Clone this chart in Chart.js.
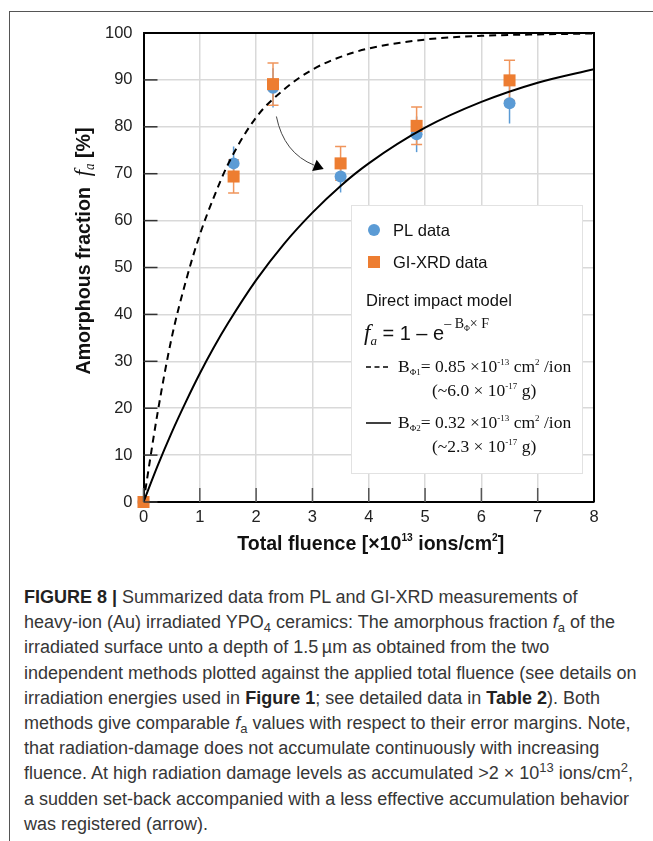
<!DOCTYPE html>
<html>
<head>
<meta charset="utf-8">
<script src="https://cdn.jsdelivr.net/npm/chart.js@4.4.1/dist/chart.umd.min.js"></script>
<style>
  body { margin: 0; background: #fff; }
  #page { position: relative; width: 653px; height: 841px; overflow: hidden; background: #fff; }
  #frame { position: absolute; left: 9px; top: 11px; width: 700px; height: 900px; border: 1px solid #555; }
  #chartBox { position: absolute; left: 0; top: 0; width: 653px; height: 560px; }
  #caption {
    position: absolute; left: 24px; top: 585px;
    font-family: "Liberation Sans", Arial, sans-serif; font-size: 18px; line-height: 25.2px;
    color: #363636; white-space: nowrap;
  }
  #caption b { color: #222; }
  #caption sub { font-size: 13px; line-height: 0; vertical-align: -4px; }
  #caption sup { font-size: 13px; line-height: 0; vertical-align: 7px; }
</style>
</head>
<body>
<div id="page">
  <div id="frame"></div>
  <div id="chartBox"><canvas id="chart" width="653" height="560"></canvas></div>
  <div id="caption">
    <div><b>FIGURE 8 |</b> Summarized data from PL and GI-XRD measurements of</div>
    <div>heavy-ion (Au) irradiated YPO<sub>4</sub> ceramics: The amorphous fraction <i>f</i><sub>a</sub> of the</div>
    <div>irradiated surface unto a depth of 1.5&thinsp;µm as obtained from the two</div>
    <div>independent methods plotted against the applied total fluence (see details on</div>
    <div>irradiation energies used in <b>Figure 1</b>; see detailed data in <b>Table 2</b>). Both</div>
    <div>methods give comparable <i>f</i><sub>a</sub> values with respect to their error margins. Note,</div>
    <div>that radiation-damage does not accumulate continuously with increasing</div>
    <div>fluence. At high radiation damage levels as accumulated &gt;2 × 10<sup>13</sup> ions/cm<sup>2</sup>,</div>
    <div>a sudden set-back accompanied with a less effective accumulation behavior</div>
    <div>was registered (arrow).</div>
  </div>
</div>
<script>
// measured points (fluence in 1e13 ions/cm2, amorphous fraction in %)
const fluence = [0, 1.6, 2.3, 3.5, 4.85, 6.5];
const plData = [0, 72.2, 88.3, 69.4, 78.4, 85.0];
const plErr = [0, 3.6, 4.2, 3.4, 3.8, 4.3];
const xrdData = [0, 69.4, 89.1, 72.2, 80.2, 89.9];
const xrdErr = [0, 3.5, 4.5, 3.6, 4.0, 4.3];

// model curves
const curveF = [0, 0.25, 0.5, 0.75, 1, 1.25, 1.5, 2, 2.5, 3, 3.5, 4, 5, 6, 7, 8];
const fitPhi1 = [0, 19, 35, 47, 57, 65, 72, 82, 88, 92.2, 94.9, 96.7, 98.6, 99.4, 99.7, 99.9];
const fitPhi2 = [0, 7.7, 14.8, 21.3, 27.4, 33, 38.1, 47.3, 55.1, 61.7, 67.4, 72.2, 79.8, 85.3, 89.4, 92.3];

// arrow (set-back) in data units: start, control, tip
const arrowFrom = [2.36, 82.2];
const arrowCtrl = [2.49, 74.4];
const arrowTo = [3.2, 71.0];

const xTicks = [0, 1, 2, 3, 4, 5, 6, 7, 8];
const yTicks = [0, 10, 20, 30, 40, 50, 60, 70, 80, 90, 100];

const BLUE = '#5b9bd5';
const ORANGE = '#ed7d31';
const SANS = '"Liberation Sans", Arial, sans-serif';
const SERIF = '"Liberation Serif", "Times New Roman", serif';

const toXY = (xs, ys) => xs.map((v, i) => ({ x: v, y: ys[i] }));

function drawRuns(ctx, x, y, runs) {
  let cx = x;
  for (const [t, font, dy] of runs) {
    ctx.font = font;
    ctx.fillText(t, cx, y + (dy || 0));
    cx += ctx.measureText(t).width;
  }
  return cx - x;
}
function runsWidth(ctx, runs) {
  let w = 0;
  for (const [t, font] of runs) { ctx.font = font; w += ctx.measureText(t).width; }
  return w;
}

const errorBars = {
  id: 'errorBars',
  beforeDatasetsDraw(chart) {
    const { ctx, scales: { x, y } } = chart;
    ctx.save();
    ctx.lineWidth = 1.5;
    fluence.forEach((f, i) => {
      const cx = x.getPixelForValue(f);
      if (plErr[i] > 0) {
        ctx.strokeStyle = BLUE;
        ctx.beginPath();
        ctx.moveTo(cx, y.getPixelForValue(plData[i] - plErr[i]));
        ctx.lineTo(cx, y.getPixelForValue(plData[i] + plErr[i]));
        ctx.stroke();
      }
      if (xrdErr[i] > 0) {
        const lo = y.getPixelForValue(xrdData[i] - xrdErr[i]);
        const hi = y.getPixelForValue(xrdData[i] + xrdErr[i]);
        ctx.strokeStyle = '#f0955c';
        ctx.beginPath();
        ctx.moveTo(cx, lo); ctx.lineTo(cx, hi);
        ctx.moveTo(cx - 5.5, lo); ctx.lineTo(cx + 5.5, lo);
        ctx.moveTo(cx - 5.5, hi); ctx.lineTo(cx + 5.5, hi);
        ctx.stroke();
      }
    });
    ctx.restore();
  }
};

const decorations = {
  id: 'decorations',
  afterDraw(chart) {
    const { ctx, chartArea: a, scales: { x, y } } = chart;
    ctx.save();

    // inner ticks
    ctx.lineWidth = 1.5;
    ctx.strokeStyle = '#333';
    yTicks.forEach(v => {
      const py = y.getPixelForValue(v);
      ctx.beginPath(); ctx.moveTo(a.left, py); ctx.lineTo(a.left + 14, py); ctx.stroke();
    });
    ctx.strokeStyle = '#555';
    xTicks.forEach(v => {
      const pxx = x.getPixelForValue(v);
      ctx.beginPath(); ctx.moveTo(pxx, a.bottom); ctx.lineTo(pxx, a.bottom - 14); ctx.stroke();
    });

    // top and right frame
    ctx.strokeStyle = '#000';
    ctx.lineWidth = 2;
    ctx.beginPath();
    ctx.moveTo(a.left, a.top); ctx.lineTo(a.right, a.top); ctx.lineTo(a.right, a.bottom);
    ctx.stroke();

    // curved arrow
    const p0 = [x.getPixelForValue(arrowFrom[0]), y.getPixelForValue(arrowFrom[1])];
    const pc = [x.getPixelForValue(arrowCtrl[0]), y.getPixelForValue(arrowCtrl[1])];
    const p2 = [x.getPixelForValue(arrowTo[0]), y.getPixelForValue(arrowTo[1])];
    const ang = Math.atan2(p2[1] - pc[1], p2[0] - pc[0]);
    const headLen = 10, headW = 6;
    const base = [p2[0] - headLen * Math.cos(ang), p2[1] - headLen * Math.sin(ang)];
    ctx.strokeStyle = '#444';
    ctx.lineWidth = 1;
    ctx.beginPath();
    ctx.moveTo(p0[0], p0[1]);
    ctx.quadraticCurveTo(pc[0], pc[1], base[0], base[1]);
    ctx.stroke();
    ctx.fillStyle = '#000';
    ctx.beginPath();
    ctx.moveTo(p2[0], p2[1]);
    ctx.lineTo(base[0] + headW * Math.sin(ang), base[1] - headW * Math.cos(ang));
    ctx.lineTo(base[0] - headW * Math.sin(ang), base[1] + headW * Math.cos(ang));
    ctx.closePath();
    ctx.fill();

    // legend box
    const lx = 351, ly = 205, lw = 231, lh = 268;
    ctx.fillStyle = '#fff';
    ctx.fillRect(lx, ly, lw, lh);
    ctx.strokeStyle = '#e2e2e2';
    ctx.lineWidth = 1;
    ctx.strokeRect(lx + 0.5, ly + 0.5, lw, lh);

    ctx.fillStyle = BLUE;
    ctx.beginPath(); ctx.arc(374, 230, 6, 0, Math.PI * 2); ctx.fill();
    ctx.fillStyle = ORANGE;
    ctx.fillRect(368, 256, 12, 12);

    ctx.fillStyle = '#111';
    ctx.textBaseline = 'middle';
    ctx.font = '16.5px ' + SANS;
    ctx.fillText('PL data', 393, 231);
    ctx.fillText('GI-XRD data', 393, 263);
    ctx.fillText('Direct impact model', 366, 301);
    ctx.textBaseline = 'alphabetic';

    drawRuns(ctx, 364, 340, [
      ['f', 'italic 23px ' + SERIF],
      ['a', 'italic 13px ' + SERIF, 5],
      [' = 1 – e', '20px ' + SANS],
      ['– B', '14px ' + SERIF, -12],
      ['Φ', '8px ' + SERIF, -9],
      ['× F', '14px ' + SERIF, -12]
    ]);

    const bLine = (yy, sub, val, paren, dashed) => {
      ctx.strokeStyle = '#000';
      ctx.lineWidth = 1.5;
      ctx.setLineDash(dashed ? [5, 3.5] : []);
      ctx.beginPath(); ctx.moveTo(366, yy - 5); ctx.lineTo(391, yy - 5); ctx.stroke();
      ctx.setLineDash([]);
      drawRuns(ctx, 398, yy, [
        ['B', '17.5px ' + SERIF],
        [sub, '9px ' + SERIF, 3],
        ['= ' + val + ' ×10', '17.5px ' + SERIF],
        ['-13', '9px ' + SERIF, -7],
        [' cm', '17.5px ' + SERIF],
        ['2', '9px ' + SERIF, -7],
        [' /ion', '17.5px ' + SERIF]
      ]);
      drawRuns(ctx, 432, yy + 24, [
        ['(~' + paren + ' × 10', '17.5px ' + SERIF],
        ['-17', '9px ' + SERIF, -7],
        [' g)', '17.5px ' + SERIF]
      ]);
    };
    bLine(372, 'Φ1', '0.85', '6.0', true);
    bLine(428, 'Φ2', '0.32', '2.3', false);

    // axis titles (condensed bold, like the original)
    ctx.fillStyle = '#111';
    const yRuns = [
      ['Amorphous fraction  ', 'bold 21px ' + SANS],
      ['f', 'italic 24px ' + SERIF],
      ['a', 'italic 14px ' + SERIF, 4],
      [' [%]', 'bold 21px ' + SANS]
    ];
    ctx.save();
    ctx.translate(90, 251);
    ctx.rotate(-Math.PI / 2);
    ctx.scale(247 / runsWidth(ctx, yRuns), 1);
    drawRuns(ctx, -runsWidth(ctx, yRuns) / 2, 0, yRuns);
    ctx.restore();

    const xRuns = [
      ['Total fluence [×10', 'bold 21px ' + SANS],
      ['13', 'bold 11px ' + SANS, -9],
      [' ions/cm', 'bold 21px ' + SANS],
      ['2', 'bold 11px ' + SANS, -9],
      [']', 'bold 21px ' + SANS]
    ];
    ctx.save();
    ctx.translate((a.left + a.right) / 2 + 2, 550);
    ctx.scale(267 / runsWidth(ctx, xRuns), 1);
    drawRuns(ctx, -runsWidth(ctx, xRuns) / 2, 0, xRuns);
    ctx.restore();

    ctx.restore();
  }
};

new Chart(document.getElementById('chart'), {
  type: 'scatter',
  data: {
    datasets: [
      {
        type: 'line',
        label: 'B_Phi1',
        data: toXY(curveF, fitPhi1),
        borderColor: '#000',
        borderWidth: 2,
        borderDash: [7, 5],
        pointRadius: 0,
        cubicInterpolationMode: 'monotone',
        order: 0
      },
      {
        type: 'line',
        label: 'B_Phi2',
        data: toXY(curveF, fitPhi2),
        borderColor: '#000',
        borderWidth: 2,
        pointRadius: 0,
        cubicInterpolationMode: 'monotone',
        order: 0
      },
      {
        label: 'GI-XRD data',
        data: toXY(fluence, xrdData),
        pointStyle: 'rect',
        pointRadius: 8.5,
        backgroundColor: ORANGE,
        borderWidth: 0,
        clip: false,
        order: 1
      },
      {
        label: 'PL data',
        data: toXY(fluence, plData),
        pointStyle: 'circle',
        pointRadius: 6,
        backgroundColor: BLUE,
        borderWidth: 0,
        clip: false,
        order: 2
      }
    ]
  },
  options: {
    responsive: false,
    animation: false,
    events: [],
    layout: { padding: { top: 33, right: 59, left: 0, bottom: 0 } },
    plugins: { legend: { display: false }, tooltip: { enabled: false } },
    scales: {
      x: {
        type: 'linear', min: 0, max: 8,
        afterFit: s => { s.height = 58; },
        afterBuildTicks: s => { s.ticks = xTicks.map(v => ({ value: v })); },
        ticks: { color: '#222', font: { family: SANS, size: 16.5 }, padding: 6 },
        grid: { color: '#d9d9d9', lineWidth: 1.5, drawTicks: false },
        border: { color: '#000', width: 2 }
      },
      y: {
        type: 'linear', min: 0, max: 100,
        afterFit: s => { s.width = 143.5; },
        afterBuildTicks: s => { s.ticks = yTicks.map(v => ({ value: v })); },
        ticks: { color: '#222', font: { family: SANS, size: 16.5 }, padding: 11 },
        grid: { color: '#d9d9d9', lineWidth: 1.5, drawTicks: false },
        border: { color: '#000', width: 2 }
      }
    }
  },
  plugins: [errorBars, decorations]
});
</script>
</body>
</html>
